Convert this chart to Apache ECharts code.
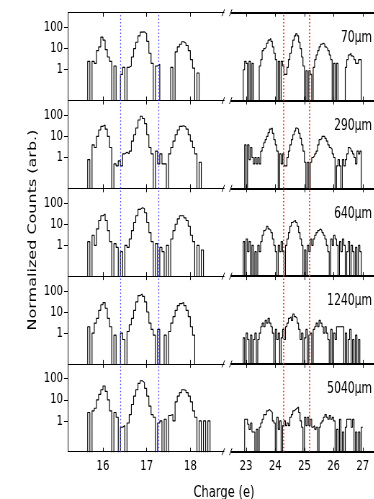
<!DOCTYPE html>
<html><head><meta charset="utf-8">
<script src="https://cdn.jsdelivr.net/npm/echarts@6/dist/echarts.min.js"></script>
<style>
html,body{margin:0;padding:0;background:#fff;overflow:hidden;}
#wrap{width:374px;height:499px;overflow:hidden;position:relative;background:#fff;}
#chart{position:absolute;left:0;top:0;height:499px;transform-origin:0 0;}
</style></head><body>
<div id="wrap"><div id="chart"></div></div>
<script>
// ---------------- data ----------------
const rowLabels = ['70μm', '290μm', '640μm', '1240μm', '5040μm'];
const leftTicks = [16, 17, 18];
const rightTicks = [23, 24, 25, 26, 27];
const yTicks = [1, 10, 100];
const blueLines = [16.40, 17.28];
const redLines = [24.28, 25.18];
const leftStart = 15.60;   // left edge of first bin, low-charge panel
const rightStart = 22.85;  // left edge of first bin, high-charge panel
const binWidth = 0.05;

const left70 = [0, 2.5, 0, 2.5, 2, 8, 12, 35, 25, 9,
  4, 2.5, 0, 1.5, 0, 0, 0.6, 1.3, 0, 1.3,
  1.5, 4, 10, 20, 40, 60, 62, 50, 22, 6,
  2, 0, 1.5, 1.8, 0, 0, 0, 0, 0, 1.3,
  0, 7, 12, 16, 21, 18, 14, 8, 3, 1.2,
  0, 0.7, 0, 0, 0, 0, 0, 0, 0, 0];
const left290 = [0, 0.8, 0, 4, 3, 10, 20, 30, 35, 22,
  10, 3, 0, 0.5, 0.4, 0.7, 0.4, 1.5, 1.8, 1.5,
  2, 6, 12, 25, 60, 90, 70, 40, 12, 3,
  1.5, 0, 2, 0.5, 1.5, 0.5, 0.5, 0, 1.5, 3,
  6, 12, 20, 30, 32, 28, 22, 12, 6, 3,
  1.5, 0, 0.6, 0, 0, 0, 0, 0, 0, 0];
const left640 = [0, 1.5, 0, 3, 1, 6, 15, 25, 30, 15,
  5, 1.5, 0, 1.2, 0.8, 0, 0.5, 0, 1, 0.8,
  2, 5, 12, 25, 50, 60, 55, 35, 12, 4,
  1.5, 0, 1.2, 0, 0.8, 0.5, 0, 1, 0, 2,
  5, 10, 18, 25, 25, 20, 15, 8, 3, 1.5,
  0, 1, 0, 0.6, 0, 0, 0, 0, 0, 0];
const left1240 = [0, 2, 0, 1, 3, 5, 12, 22, 28, 15,
  5, 2, 0, 0.8, 0, 0, 1, 0.5, 0, 1.2,
  2.5, 5, 12, 30, 60, 70, 55, 30, 10, 3,
  1.5, 0.8, 0, 1.5, 0, 0, 0.8, 0, 1.2, 3,
  6, 12, 20, 25, 28, 20, 12, 6, 2, 0.8,
  0, 0, 0, 0, 0, 0, 0, 0, 0, 0];
const left5040 = [0, 2.5, 0, 3, 4, 10, 18, 30, 45, 25,
  10, 3, 0, 2.5, 1.5, 0, 0.5, 0.6, 0, 0.8,
  2, 6, 15, 30, 60, 80, 65, 35, 15, 5,
  2, 1.5, 0, 0.8, 1, 0, 1.2, 0, 1.8, 2,
  1, 8, 15, 22, 30, 28, 22, 15, 8, 3,
  1.5, 0, 1, 0, 1, 0, 1, 0, 0, 0];

const right70 = [0, 1, 2.5, 2, 0, 2.5, 0, 2, 0, 0,
  0, 0, 1.5, 3, 8, 10, 12, 18, 25, 30,
  22, 12, 6, 3, 0, 2.5, 0, 2.5, 1.5, 0.6,
  0.6, 1.3, 3, 6, 12, 25, 40, 50, 40, 20,
  10, 4, 1.5, 0, 0.9, 0, 0.9, 0.6, 0, 1.3,
  3, 5, 8, 12, 16, 18, 16, 12, 10, 8,
  5, 3, 0, 2, 0, 2, 0, 0, 0, 0,
  0, 1.3, 3, 5, 6, 4.5, 4, 3, 2, 2,
  3, 3, 0];
const right290 = [0, 0, 4, 0, 4, 0.8, 3, 1, 0.5, 1,
  0.5, 1, 0.5, 2, 3, 5, 7, 10, 15, 22,
  25, 14, 7, 4, 2, 0, 1.5, 0.5, 1.5, 0.4,
  0.4, 1, 2, 4, 7, 12, 18, 25, 22, 14,
  8, 4, 2, 0.6, 0, 0.6, 0, 0.6, 1, 1.2,
  1.5, 2, 4, 7, 8, 10, 10, 8, 6, 4,
  3, 2.5, 1.5, 1, 0, 0.4, 0.8, 0.4, 0, 0.8,
  0.4, 0.8, 1.5, 3, 2.5, 2, 1.5, 1, 0.5, 2,
  1.5, 2, 0];
const right640 = [0, 1.5, 0, 2, 0.5, 1.5, 0, 1, 0, 0.5,
  0, 1, 0.5, 1.5, 3, 5, 6, 8, 6, 5,
  4, 2, 1, 0.5, 0, 1, 0.5, 1.5, 0.5, 0,
  1, 2, 4, 8, 12, 14, 15, 12, 8, 4,
  2, 1, 0, 0.6, 0, 1, 0.5, 2, 1, 2,
  3, 4, 5, 6, 5, 4, 3, 2, 1, 0.5,
  0, 2, 1, 3, 2, 1, 0, 1.5, 0.5, 2,
  1, 0, 0.5, 1.5, 0, 1, 0.5, 0, 0.8, 0,
  1, 0.5, 0];
const right1240 = [0, 0.6, 0, 1, 0.5, 0, 0.8, 0, 0.5, 1,
  0, 0.5, 1, 2, 3, 2, 4, 3, 5, 3,
  2, 1, 0, 1.5, 0.5, 1, 0, 0.6, 1.5, 0.5,
  2, 3, 5, 6, 4, 8, 6, 5, 3, 1.5,
  0.5, 1, 0, 0.6, 1.5, 0, 0.8, 1, 0, 1.5,
  2, 3, 2, 4, 3, 2, 1, 2, 1, 0.5,
  0, 1.5, 0, 1, 0.5, 2, 2, 2, 2, 2,
  0, 1, 0, 0.5, 1.5, 0, 0.5, 0, 0.8, 0,
  0.5, 0, 0];
const right5040 = [0, 0, 1.2, 1.2, 0.7, 0.4, 0.8, 0.3, 0.3, 0,
  0.4, 0, 0.5, 0.8, 1.2, 2, 2, 3, 3.5, 3,
  2.5, 1, 0.8, 0, 1.5, 0.4, 1, 0, 0.6, 1,
  0.6, 0.8, 0.6, 1.5, 2, 3, 3.5, 4, 4.5, 2.5,
  1, 0.5, 0, 1.5, 0.6, 1.5, 0.6, 1.2, 0.5, 0.6,
  0.4, 0.5, 0, 0.5, 0.8, 1, 1.5, 2, 1.5, 1.2,
  1.8, 1.2, 1.5, 1, 0, 0.4, 0, 1.2, 0, 0.3,
  0, 0.5, 1.2, 1.2, 1.2, 0.5, 1.2, 0, 0.3, 0,
  0.3, 0, 0.5];

const leftRows = [left70, left290, left640, left1240, left5040];
const rightRows = [right70, right290, right640, right1240, right5040];

// ---------------- layout ----------------
const S = 0.72;                 // horizontal squeeze of the whole figure
const W = 374 / S;
const el = document.getElementById('chart');
el.style.width = W + 'px';
el.style.transform = 'scaleX(' + S + ')';
const chart = echarts.init(el, null, {renderer: 'canvas'});

const rowTop0 = 12.7, rowH = 87.8;
const leftX0 = 68, leftX1 = 224, rightX0 = 231.5, rightX1 = 374;
const leftMin = 15.2, leftMax = 18.77, rightMin = 22.5, rightMax = 27.375;
const yMin = 0.035, yMax = 500;
const floorVal = 1e-4;  // empty bins drop below the axis floor (clipped)
const FONT = 'DejaVu Sans';

function toSteps(start, vals) {
  const pts = vals.map((v, i) => [+(start + i * binWidth).toFixed(4), v > 0 ? v : floorVal]);
  const last = vals[vals.length - 1];
  pts.push([+(start + vals.length * binWidth).toFixed(4), last > 0 ? last : floorVal]);
  return pts;
}

const grids = [], xAxes = [], yAxes = [], series = [], graphics = [];
for (let r = 0; r < 5; r++) {
  const top = rowTop0 + r * rowH;
  const isLast = r === 4;
  for (let side = 0; side < 2; side++) {
    const gi = 2 * r + side;
    const isRight = side === 1;
    grids.push(isRight
      ? {left: rightX0 / S, top: top, width: (rightX1 - rightX0) / S, height: rowH}
      : {left: leftX0 / S, top: top, width: (leftX1 - leftX0) / S, height: rowH});
    const mn = isRight ? rightMin : leftMin, mx = isRight ? rightMax : leftMax;
    const ticks = isRight ? rightTicks : leftTicks;
    const lw = isRight ? 2 : 1;
    const base = {
      type: 'value', gridIndex: gi, min: mn, max: mx,
      axisLine: {show: true, onZero: false, lineStyle: {color: '#000', width: lw}},
      axisTick: {show: true, inside: true, length: 4, customValues: ticks, lineStyle: {color: '#000', width: 1}},
      splitLine: {show: false}
    };
    xAxes.push(Object.assign({}, base, {
      position: 'bottom',
      axisLabel: {show: isLast, customValues: ticks, margin: 8, fontFamily: FONT, fontSize: 14, color: '#000'}
    }));
    xAxes.push(Object.assign({}, base, {position: 'top', axisLabel: {show: false}}));
    yAxes.push({
      type: 'log', logBase: 10, gridIndex: gi, min: yMin, max: yMax, show: !isRight,
      axisLine: {show: true, onZero: false, lineStyle: {color: '#000', width: 1}},
      axisTick: {show: true, inside: false, length: 4 / S, customValues: yTicks, lineStyle: {color: '#000', width: 1}},
      axisLabel: {show: true, customValues: yTicks, margin: 5 / S, fontFamily: FONT, fontSize: 14, color: '#000',
        formatter: v => String(Math.round(v))},
      minorTick: {show: false}, splitLine: {show: false}
    });
    const vals = isRight ? rightRows[r] : leftRows[r];
    series.push({
      type: 'line', step: 'end', xAxisIndex: 2 * gi, yAxisIndex: gi,
      data: toSteps(isRight ? rightStart : leftStart, vals),
      symbol: 'none', showSymbol: false, clip: true, silent: true, animation: false,
      lineStyle: {color: '#000', width: 1.15},
      markLine: {
        silent: true, animation: false, symbol: ['none', 'none'], label: {show: false},
        lineStyle: isRight ? {type: [1.5, 2], color: '#ff3030', width: 1.8} : {type: [1.5, 2], color: '#5050ff', width: 1.3},
        emphasis: {disabled: true},
        data: (isRight ? redLines : blueLines).map(v => ({xAxis: v}))
      }
    });
  }
  graphics.push({
    type: 'text', x: 372 / S, y: top + 25.5, z: 100,
    style: {text: rowLabels[r], fill: '#000', font: '15px "' + FONT + '"', align: 'right', verticalAlign: 'middle'}
  });
}
// axis-break marks
for (let k = 0; k <= 5; k++) {
  const y = rowTop0 + k * rowH;
  [223.3, 230.7].forEach(xc => {
    graphics.push({type: 'line', z: 100, shape: {x1: (xc - 1.3) / S, y1: y + 3.5, x2: (xc + 1.3) / S, y2: y - 3.5},
      style: {stroke: '#000', lineWidth: 1}});
  });
}
graphics.push({type: 'text', x: 33 / S, y: 230, rotation: Math.PI / 2, z: 100,
  style: {text: 'Normalized Counts (arb.)', fill: '#000', font: '16px "' + FONT + '"', align: 'center', verticalAlign: 'middle'}});
graphics.push({type: 'text', x: 224 / S, y: 493, z: 100,
  style: {text: 'Charge (e)', fill: '#000', font: '16px "' + FONT + '"', align: 'center', verticalAlign: 'middle'}});

chart.setOption({
  animation: false,
  backgroundColor: '#fff',
  grid: grids, xAxis: xAxes, yAxis: yAxes, series: series, graphic: graphics
});
</script>
</body></html>
